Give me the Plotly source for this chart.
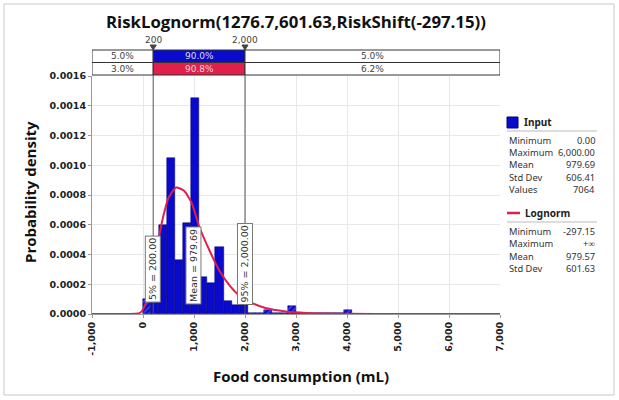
import plotly.graph_objects as go

# ---------------- data ----------------
title_text = "RiskLognorm(1276.7,601.63,RiskShift(-297.15))"

bin_start = 0.0
bin_width = 6000.0 / 38
input_density = [
    0.00010, 0.00035, 0.00060, 0.00105, 0.00036, 0.00061, 0.00145, 0.00025,
    0.00021, 0.00045, 0.00009, 0.00006, 0.00007, 0.000008, 0.000008, 0.00003,
    0.000005, 0.000005, 0.000056, 0.000004, 0.000004, 0.000004, 0.000004, 0.000004,
    0.000004, 0.000025, 0.000003, 0.000003, 0.000003, 0.000003, 0.000003, 0.000003,
    0.000003, 0.000003, 0.000003, 0.000003, 0.000003, 0.000003,
]

fit_x = [-1000, -300, -150, -50, 0, 50, 100, 150, 200, 250, 300, 400, 500, 650,
         800, 950, 1100, 1300, 1500, 1700, 1900, 2100, 2400, 2800, 3200, 3600,
         4000, 5000, 7000]
fit_y = [0, 0, 0.000001, 0.00001, 0.00003, 0.00007, 0.00012, 0.00019, 0.00028,
         0.00038, 0.00049, 0.00066, 0.00078, 0.00085, 0.00083, 0.00075, 0.00059,
         0.00043, 0.00029, 0.00019, 0.00012, 0.00008, 0.00004, 0.000017,
         0.000007, 0.000003, 0.0000015, 0.0000003, 0]

x_ticks = [-1000, 0, 1000, 2000, 3000, 4000, 5000, 6000, 7000]
x_tick_labels = ["-1,000", "0", "1,000", "2,000", "3,000", "4,000", "5,000", "6,000", "7,000"]
y_ticks = [0, 0.0002, 0.0004, 0.0006, 0.0008, 0.0010, 0.0012, 0.0014, 0.0016]
y_tick_labels = ["0.0000", "0.0002", "0.0004", "0.0006", "0.0008", "0.0010", "0.0012", "0.0014", "0.0016"]

delim_low = 200
delim_high = 2000
delim_labels = ["200", "2,000"]
input_pct = ["5.0%", "90.0%", "5.0%"]
fit_pct = ["3.0%", "90.8%", "6.2%"]

marker_labels = ["5% = 200.00", "Mean = 979.69", "95% = 2,000.00"]
marker_x = [200, 979.69, 2000]
marker_y = [0.00030, 0.000326, 0.000336]

input_stats_names = ["Minimum", "Maximum", "Mean", "Std Dev", "Values"]
input_stats_vals = ["0.00", "6,000.00", "979.69", "606.41", "7064"]
fit_stats_names = ["Minimum", "Maximum", "Mean", "Std Dev"]
fit_stats_vals = ["-297.15", "+\u221e", "979.57", "601.63"]

x_range = [-1000, 7000]
y_range = [0, 0.0016]

# ---------------- layout helpers ----------------
W, H = 619, 400
L, R, T, B = 92, 500, 76, 314


def xp(px):
    return (px - L) / (R - L)


def yp(py):
    return (B - py) / (B - T)


BLUE = "#0a0acc"
RED = "#e0204a"
FONT = "DejaVu Sans"
LFONT = "Noto Sans"
TFONT = "Open Sans"

centers = [bin_start + bin_width * (i + 0.5) for i in range(len(input_density))]
patterns = ["/" if (c < delim_low or c > delim_high) else "" for c in centers]

fig = go.Figure()
fig.add_trace(go.Bar(
    x=centers, y=input_density, width=bin_width,
    marker=dict(color=BLUE, line=dict(color="#00007a", width=0.5),
                pattern=dict(shape=patterns, fgcolor="#8a8aff", size=4, solidity=0.35)),
    showlegend=False, hoverinfo="skip",
))
fig.add_trace(go.Scatter(
    x=fit_x, y=fit_y, mode="lines", line=dict(color=RED, width=2, shape="spline", smoothing=0.6),
    showlegend=False, hoverinfo="skip", cliponaxis=False,
))

shapes = []
annotations = []

# vertical delimiter lines
for xv in (delim_low, delim_high):
    shapes.append(dict(type="line", xref="x", yref="paper", x0=xv, x1=xv,
                       y0=0, y1=yp(50), line=dict(color="#555555", width=1), layer="above"))

# delimiter bars
row_tops = [50, 62.5]
row_bots = [62.5, 75]
row_fill = [BLUE, RED]
row_texts = [input_pct, fit_pct]
seg_edges = [x_range[0], delim_low, delim_high, x_range[1]]
for r in range(2):
    for s in range(3):
        fill = row_fill[r] if s == 1 else "white"
        shapes.append(dict(type="rect", xref="x", yref="paper",
                           x0=seg_edges[s], x1=seg_edges[s + 1],
                           y0=yp(row_bots[r]), y1=yp(row_tops[r]),
                           fillcolor=fill, line=dict(color="#333333", width=1), layer="above"))
        annotations.append(dict(xref="x", yref="paper",
                                x=(seg_edges[s] + seg_edges[s + 1]) / 2,
                                y=yp((row_tops[r] + row_bots[r]) / 2),
                                text=row_texts[r][s], showarrow=False,
                                font=dict(family=FONT, size=9,
                                          color="#dddddd" if s == 1 else "#444444"),
                                xanchor="center", yanchor="middle"))

# triangles + labels above delimiters
for xv, lab in zip((delim_low, delim_high), delim_labels):
    shapes.append(dict(type="path", xref="x", yref="paper",
                       path=f"M {xv-60},{yp(45)} L {xv+60},{yp(45)} L {xv},{yp(50)} Z",
                       fillcolor="#444444", line=dict(color="#444444", width=1), layer="above"))
    annotations.append(dict(xref="x", yref="paper", x=xv, y=yp(40), text=lab,
                            showarrow=False, font=dict(family=FONT, size=9, color="#444444"),
                            xanchor="center", yanchor="middle"))

# rotated marker labels
for lab, xv, yv in zip(marker_labels, marker_x, marker_y):
    annotations.append(dict(xref="x", yref="y", x=xv, y=yv, text=lab, textangle=-90,
                            showarrow=False, font=dict(family=FONT, size=9.5, color="#333333"),
                            bgcolor="white", bordercolor="#777777", borderwidth=1, borderpad=1.5,
                            xanchor="center", yanchor="middle"))

# title and axis titles
annotations.append(dict(xref="paper", yref="paper", x=xp(296), y=yp(22), text=f"<b>{title_text}</b>",
                        showarrow=False, font=dict(family=TFONT, size=16.8, color="#111111"),
                        xanchor="center", yanchor="middle"))
annotations.append(dict(xref="paper", yref="paper", x=xp(30), y=yp(192), text="<b>Probability density</b>",
                        textangle=-90, showarrow=False, font=dict(family=TFONT, size=15, color="#111111"),
                        xanchor="center", yanchor="middle"))
annotations.append(dict(xref="paper", yref="paper", x=xp(301), y=yp(376), text="<b>Food consumption (mL)</b>",
                        showarrow=False, font=dict(family=TFONT, size=15, color="#111111"),
                        xanchor="center", yanchor="middle"))

# right-hand legend/stat panel
LX0, LX1 = 507, 597
shapes.append(dict(type="rect", xref="paper", yref="paper", x0=xp(507), x1=xp(518), y0=yp(128), y1=yp(117),
                   fillcolor=BLUE, line=dict(color="#00007a", width=1)))
annotations.append(dict(xref="paper", yref="paper", x=xp(522), y=yp(122), text="<b>Input</b>",
                        showarrow=False, font=dict(family=LFONT, size=10, color="#222222"),
                        xanchor="left", yanchor="middle"))
shapes.append(dict(type="line", xref="paper", yref="paper", x0=xp(LX0), x1=xp(LX1), y0=yp(131), y1=yp(131),
                   line=dict(color="#bbbbbb", width=1)))
for i, (n, v) in enumerate(zip(input_stats_names, input_stats_vals)):
    yy = yp(140.5 + 12.2 * i)
    annotations.append(dict(xref="paper", yref="paper", x=xp(LX0), y=yy, text=n, showarrow=False,
                            font=dict(family=LFONT, size=9.3, color="#333333"), xanchor="left", yanchor="middle"))
    annotations.append(dict(xref="paper", yref="paper", x=xp(LX1), y=yy, text=v, showarrow=False,
                            font=dict(family=LFONT, size=9.3, color="#333333"), xanchor="right", yanchor="middle"))

shapes.append(dict(type="line", xref="paper", yref="paper", x0=xp(507), x1=xp(520), y0=yp(213), y1=yp(213),
                   line=dict(color=RED, width=2.5)))
annotations.append(dict(xref="paper", yref="paper", x=xp(523), y=yp(213), text="<b>Lognorm</b>",
                        showarrow=False, font=dict(family=LFONT, size=10, color="#222222"),
                        xanchor="left", yanchor="middle"))
shapes.append(dict(type="line", xref="paper", yref="paper", x0=xp(LX0), x1=xp(LX1), y0=yp(222), y1=yp(222),
                   line=dict(color="#bbbbbb", width=1)))
for i, (n, v) in enumerate(zip(fit_stats_names, fit_stats_vals)):
    yy = yp(231.5 + 12.3 * i)
    annotations.append(dict(xref="paper", yref="paper", x=xp(LX0), y=yy, text=n, showarrow=False,
                            font=dict(family=LFONT, size=9.3, color="#333333"), xanchor="left", yanchor="middle"))
    annotations.append(dict(xref="paper", yref="paper", x=xp(LX1), y=yy, text=v, showarrow=False,
                            font=dict(family=LFONT, size=9.3, color="#333333"), xanchor="right", yanchor="middle"))

# outer border
shapes.append(dict(type="rect", xref="paper", yref="paper", x0=xp(4), x1=xp(614), y0=yp(395), y1=yp(4),
                   line=dict(color="#c8c8c8", width=1), fillcolor="rgba(0,0,0,0)"))

axis_common = dict(showgrid=True, gridcolor="#e8e8e8", gridwidth=1, zeroline=False,
                   showline=True, linecolor="#999999", linewidth=1, layer="below traces",
                   ticks="outside", ticklen=3, tickcolor="#999999",
                   tickfont=dict(family=FONT, size=9.5, color="#222222", weight="bold"))

fig.update_layout(
    width=W, height=H,
    margin=dict(l=L, r=W - R, t=T, b=H - B),
    paper_bgcolor="white", plot_bgcolor="white",
    bargap=0, showlegend=False,
    xaxis=dict(range=x_range, tickmode="array", tickvals=x_ticks, ticktext=x_tick_labels,
               tickangle=-90, **axis_common),
    yaxis=dict(range=y_range, tickmode="array", tickvals=y_ticks, ticktext=y_tick_labels,
               **axis_common),
    shapes=shapes, annotations=annotations,
)

fig.write_html("out.html", config={"displayModeBar": False},
               post_script="document.body.style.margin='0';")
